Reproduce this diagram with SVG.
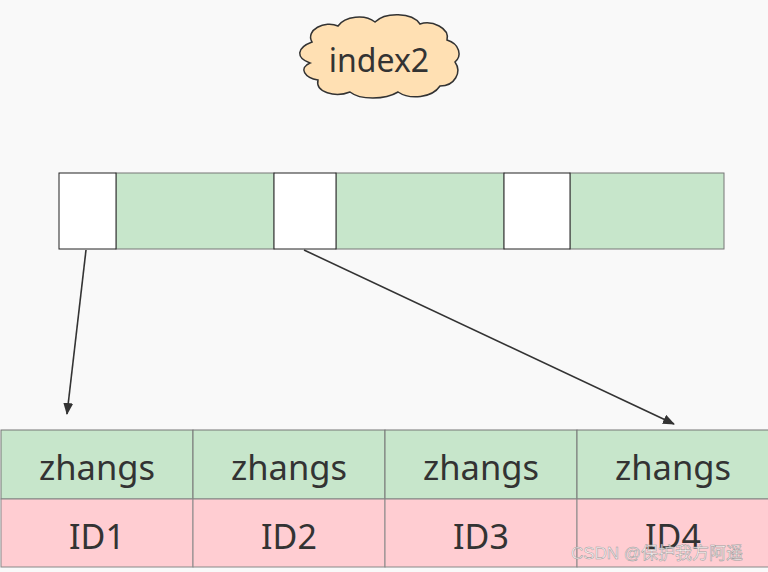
<svg xmlns="http://www.w3.org/2000/svg" width="768" height="572" viewBox="0 0 768 572">
<style>
.t{font-family:"Noto Sans","Open Sans","Liberation Sans",sans-serif;fill:#333;text-anchor:middle}
.w{fill:#ffffff;stroke:#222;stroke-width:1}
.g{fill:#c7e6cb;stroke:#777;stroke-width:1}
.p{fill:#ffcdd2;stroke:#888;stroke-width:1}
.c{stroke:#333;stroke-width:1.6;fill:none}
</style>
<defs>
<marker id="ah" markerWidth="12" markerHeight="10" refX="11" refY="5" orient="auto" markerUnits="userSpaceOnUse">
<path d="M0,0 L12,5 L0,10 Z" fill="#333"/>
</marker>
</defs>
<rect width="768" height="572" fill="#f9f9f9"/>
<g id="cloud">
<path d="M312,42 C305,30 325,20 338,26 C345,16 365,14 375,22 C385,12 412,12 420,24 C432,20 450,28 447,40 C460,44 462,56 455,62 C462,72 455,86 440,86 C432,98 410,100 398,92 C385,100 360,100 350,92 C335,98 315,92 318,80 C305,78 298,68 310,63 C296,58 296,48 312,42 Z" fill="#ffe0b3" stroke="#333" stroke-width="1.5"/>
<text class="t" x="379" y="72" font-size="32">index2</text>
</g>
<g id="index-bar">
<rect class="g" x="116" y="173" width="158" height="76"/>
<rect class="g" x="336" y="173" width="168" height="76"/>
<rect class="g" x="570" y="173" width="154" height="76"/>
<rect class="w" x="59" y="173" width="57" height="76"/>
<rect class="w" x="274" y="173" width="62" height="76"/>
<rect class="w" x="504" y="173" width="66" height="76"/>
</g>
<g id="leaf-table">
<rect class="g" x="1" y="430" width="192" height="69"/>
<rect class="g" x="193" y="430" width="192" height="69"/>
<rect class="g" x="385" y="430" width="192" height="69"/>
<rect class="g" x="577" y="430" width="200" height="69"/>
<rect class="p" x="1" y="499" width="192" height="68"/>
<rect class="p" x="193" y="499" width="192" height="68"/>
<rect class="p" x="385" y="499" width="192" height="68"/>
<rect class="p" x="577" y="499" width="200" height="68"/>
<text class="t" x="97" y="480" font-size="34.5">zhangs</text>
<text class="t" x="289" y="480" font-size="34.5">zhangs</text>
<text class="t" x="481" y="480" font-size="34.5">zhangs</text>
<text class="t" x="673" y="480" font-size="34.5">zhangs</text>
<text class="t" x="97" y="549" font-size="34">ID1</text>
<text class="t" x="289" y="549" font-size="34">ID2</text>
<text class="t" x="481" y="549" font-size="34">ID3</text>
<text class="t" x="673" y="549" font-size="34">ID4</text>
</g>
<g id="connectors">
<line class="c" x1="86" y1="250" x2="67" y2="414" marker-end="url(#ah)"/>
<line class="c" x1="304" y1="250" x2="674" y2="424" marker-end="url(#ah)"/>
</g>
<text x="657" y="559" font-size="17" fill="#fff" fill-opacity="0.8" stroke="#999" stroke-width="0.5" text-anchor="middle" font-family="'Liberation Sans','Noto Sans CJK SC',sans-serif">CSDN @保护我方阿遥</text>
</svg>
